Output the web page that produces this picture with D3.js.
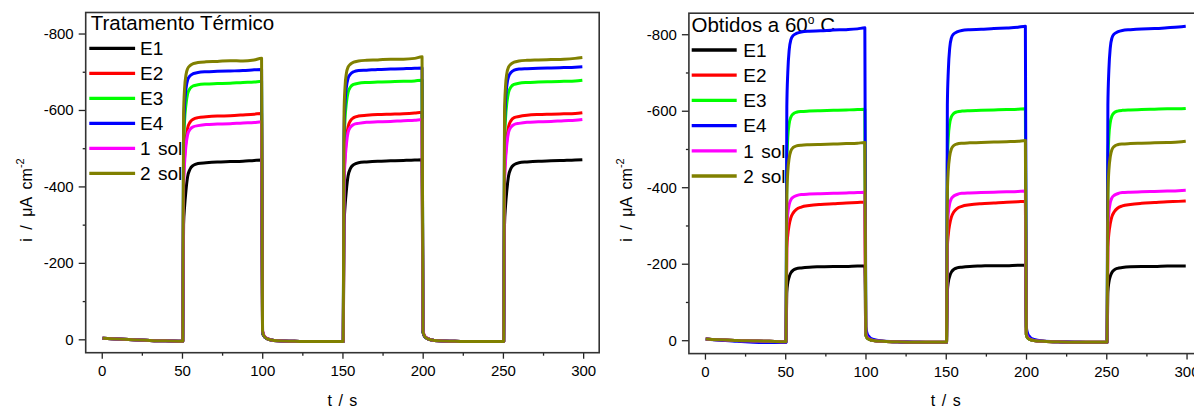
<!DOCTYPE html>
<html><head><meta charset="utf-8">
<script src="https://cdn.jsdelivr.net/npm/d3@7"></script>
<style>
body{margin:0;background:#fff}
svg{display:block}
text{font-family:"Liberation Sans",Arial,sans-serif;fill:#000}
</style>
</head><body>
<svg id="chart" width="1194" height="407"></svg>
<script>
// ---- data ----
const time = [
  0.5, 10, 20, 30, 40, 50.5,
  51.0, 51.6, 52.5, 53.5, 55, 57, 60, 65, 72, 80, 88, 95, 99.6,
  100.2, 101, 102.5, 105, 110, 120, 130, 140, 150.5,
  151.0, 151.6, 152.5, 153.5, 155, 157, 160, 165, 172, 180, 188, 195, 199.6,
  200.2, 201, 202.5, 205, 210, 220, 230, 240, 250.5,
  251.0, 251.6, 252.5, 253.5, 255, 257, 260, 265, 272, 280, 288, 295, 299.5
];
const seriesNames = ["E1", "E2", "E3", "E4", "1 sol", "2 sol"];
const seriesColors = ["#000000", "#ff0000", "#00ff00", "#0000ff", "#ff00ff", "#808000"];
const xTicks = [0, 50, 100, 150, 200, 250, 300];
const xMinor = [25, 75, 125, 175, 225, 275];
const yTicks = [0, -200, -400, -600, -800];
const yMinor = [-100, -300, -500, -700];

// Tratamento Térmico
const leftE1 = [-3,-1,1,3,4,5,
  -300,-345,-390,-425,-445,-455,-460,-462,-464,-465,-466,-468,-469,
  -20,-9,-3,1,4,5,6,6,6,
  -300,-347,-392,-427,-447,-457,-462,-464,-466,-467,-468,-469,-470,
  -20,-9,-3,1,4,5,6,6,6,
  -300,-347,-392,-427,-447,-457,-462,-464,-466,-467,-468,-469,-470];
const leftE2 = [-3,-1,1,3,4,5,
  -420,-475,-522,-552,-568,-576,-580,-582,-584,-585,-587,-589,-591,
  -20,-9,-3,1,4,5,6,6,6,
  -425,-480,-527,-556,-572,-580,-584,-586,-588,-589,-590,-592,-594,
  -20,-9,-3,1,4,5,6,6,6,
  -425,-480,-527,-556,-572,-580,-583,-586,-588,-589,-590,-591,-593];
const leftE3 = [-3,-1,1,3,4,5,
  -500,-570,-615,-642,-656,-663,-666,-668,-669,-670,-672,-673,-675,
  -20,-9,-3,1,4,5,6,6,6,
  -505,-575,-620,-646,-660,-667,-670,-672,-673,-674,-675,-676,-678,
  -20,-9,-3,1,4,5,6,6,6,
  -505,-575,-620,-646,-660,-667,-670,-672,-673,-674,-675,-676,-678];
const leftE4 = [-3,-1,1,3,4,5,
  -540,-612,-656,-678,-689,-695,-698,-700,-701,-702,-703,-705,-706,
  -20,-9,-3,1,4,5,6,6,6,
  -545,-617,-661,-683,-694,-700,-703,-704,-706,-707,-708,-709,-710,
  -20,-9,-3,1,4,5,6,6,6,
  -550,-622,-666,-687,-698,-704,-707,-708,-709,-710,-711,-712,-713];
const left1sol = [-3,-1,1,3,4,5,
  -400,-460,-507,-535,-549,-556,-559,-562,-563,-564,-566,-567,-569,
  -24,-11,-4,1,4,5,6,6,6,
  -405,-465,-512,-541,-555,-562,-565,-568,-569,-570,-572,-573,-575,
  -24,-11,-4,1,4,5,6,6,6,
  -405,-465,-512,-541,-555,-562,-565,-568,-569,-570,-572,-573,-575];
const left2sol = [-3,-1,1,3,4,5,
  -590,-655,-692,-708,-716,-721,-724,-726,-727,-729,-728,-731,-735,
  -22,-10,-3,1,4,5,6,6,6,
  -595,-660,-697,-712,-720,-725,-728,-730,-731,-733,-733,-735,-739,
  -22,-10,-3,1,4,5,6,6,6,
  -595,-660,-697,-712,-720,-725,-728,-730,-731,-732,-733,-735,-737];

// Obtidos a 60° C
const rightE1 = [-3,-1,1,2,3,4,
  -125,-150,-166,-176,-183,-187,-189,-191,-192,-193,-193,-194,-194,
  -15,-6,-2,1,3,4,5,5,5,
  -127,-152,-168,-178,-185,-189,-191,-193,-194,-195,-195,-196,-196,
  -15,-6,-2,1,3,4,5,5,5,
  -126,-151,-167,-177,-184,-188,-190,-192,-193,-193,-194,-194,-194];
const rightE2 = [-3,-1,1,2,3,4,
  -240,-275,-302,-320,-333,-342,-348,-352,-355,-357,-359,-360,-361,
  -15,-6,-2,1,3,4,5,5,5,
  -242,-277,-304,-322,-335,-344,-350,-354,-357,-359,-361,-362,-363,
  -15,-6,-2,1,3,4,5,5,5,
  -243,-278,-305,-323,-336,-345,-351,-355,-358,-360,-362,-363,-364];
const rightE3 = [-3,-1,1,2,3,4,
  -460,-530,-567,-583,-592,-596,-598,-599,-600,-601,-602,-603,-604,
  -15,-6,-2,1,3,4,5,5,5,
  -460,-530,-568,-584,-593,-597,-599,-600,-601,-602,-603,-604,-605,
  -15,-6,-2,1,3,4,5,5,5,
  -462,-532,-570,-586,-595,-599,-601,-602,-603,-604,-605,-605,-606];
const rightE4 = [-3,0,3,5,6,6,
  -610,-700,-760,-785,-797,-802,-806,-808,-809,-811,-812,-814,-817,
  -35,-18,-8,-2,2,4,5,6,6,
  -615,-705,-765,-790,-801,-806,-810,-812,-813,-815,-816,-818,-821,
  -35,-18,-8,-2,2,4,5,6,6,
  -615,-705,-765,-790,-801,-806,-810,-812,-814,-815,-817,-819,-821];
const right1sol = [-3,-1,1,2,3,4,
  -290,-330,-355,-367,-374,-378,-381,-382,-383,-384,-385,-386,-387,
  -18,-8,-3,1,3,4,5,5,5,
  -292,-332,-358,-370,-377,-381,-384,-385,-386,-387,-388,-389,-390,
  -18,-8,-3,1,3,4,5,5,5,
  -294,-334,-360,-372,-379,-383,-386,-387,-388,-389,-390,-391,-392];
const right2sol = [-3,-1,1,2,3,4,
  -380,-440,-477,-495,-504,-508,-510,-511,-512,-513,-514,-515,-517,
  -15,-6,-2,1,3,4,5,5,5,
  -385,-445,-482,-500,-509,-513,-515,-516,-517,-518,-519,-520,-522,
  -15,-6,-2,1,3,4,5,5,5,
  -383,-443,-480,-498,-507,-511,-513,-514,-515,-516,-517,-518,-520];

// ---- layout ----
const panels = [
  {title: "Tratamento Térmico", series: [leftE1, leftE2, leftE3, leftE4, left1sol, left2sol],
   x0: 85.7, x1: 599.2, y0: 12.5, y1: 352.7, titleDx: 5.0, titleY: 29.7,
   legX0: 3.6, legX1: 49.4, legTx: 54.4, legY: 48.3, legStep: 25, ylabX: 31.5},
  {title: null, series: [rightE1, rightE2, rightE3, rightE4, right1sol, right2sol],
   x0: 688.9, x1: 1202.6, y0: 13.2, y1: 353.6, titleDx: 2.6, titleY: 31.7,
   legX0: 2.8, legX1: 47.8, legTx: 54.4, legY: 50, legStep: 25.2, ylabX: 632}
];

const svg = d3.select("#chart");

panels.forEach((p, pi) => {
  const x = d3.scaleLinear().domain([-10, 310]).range([p.x0, p.x1]);
  const y = d3.scaleLinear().domain([35, -855]).range([p.y1, p.y0]);
  const g = svg.append("g");

  // axes
  const fmt = d => String(d);
  const xa = g.append("g").attr("transform", `translate(0,${p.y1})`)
    .call(d3.axisBottom(x).tickValues(xTicks).tickSize(6).tickPadding(7).tickFormat(fmt));
  const xm = g.append("g").attr("transform", `translate(0,${p.y1})`)
    .call(d3.axisBottom(x).tickValues(xMinor).tickSize(3).tickFormat(""));
  const ya = g.append("g").attr("transform", `translate(${p.x0},0)`)
    .call(d3.axisLeft(y).tickValues(yTicks).tickSize(7).tickPadding(5).tickFormat(fmt));
  const ym = g.append("g").attr("transform", `translate(${p.x0},0)`)
    .call(d3.axisLeft(y).tickValues(yMinor).tickSize(3).tickFormat(""));
  [xa, xm, ya, ym].forEach(a => {
    a.select(".domain").remove();
    a.selectAll(".tick line").attr("stroke", "#222").attr("stroke-width", 1.3);
    a.selectAll("text").attr("font-size", 15).attr("fill", "#000")
      .attr("font-family", '"Liberation Sans", Arial, sans-serif');
  });

  // frame
  g.append("rect").attr("x", p.x0).attr("y", p.y0)
    .attr("width", p.x1 - p.x0).attr("height", p.y1 - p.y0)
    .attr("fill", "none").attr("stroke", "#333").attr("stroke-width", 1.6);

  // axis titles
  g.append("text").attr("x", (p.x0 + p.x1) / 2).attr("y", 405.5)
    .attr("text-anchor", "middle").attr("font-size", 16).attr("word-spacing", 2)
    .text("t / s");
  const yl = g.append("text")
    .attr("transform", `translate(${p.ylabX},200) rotate(-90)`)
    .attr("text-anchor", "middle").attr("font-size", 16).attr("word-spacing", 4);
  yl.append("tspan").text("i / \u03bcA cm");
  yl.append("tspan").attr("font-size", 11).attr("dy", -8).text("-2");

  // legend
  if (p.title) {
    g.append("text").attr("x", p.x0 + p.titleDx).attr("y", p.titleY)
      .attr("font-size", 20.5).text(p.title);
  } else {
    const t = g.append("text").attr("x", p.x0 + p.titleDx).attr("y", p.titleY).attr("font-size", 20.5);
    t.append("tspan").text("Obtidos a 60");
    t.append("tspan").attr("font-size", 12).attr("dy", -8).text("o");
    t.append("tspan").attr("dy", 8).text(" C");
  }
  seriesNames.forEach((name, i) => {
    const ly = p.legY + i * p.legStep;
    g.append("line").attr("x1", p.x0 + p.legX0).attr("x2", p.x0 + p.legX1)
      .attr("y1", ly).attr("y2", ly)
      .attr("stroke", seriesColors[i]).attr("stroke-width", 3.3);
    g.append("text").attr("x", p.x0 + p.legTx).attr("y", ly + 6.8)
      .attr("font-size", 19).attr("word-spacing", 2).text(name);
  });

  // data lines
  const line = d3.line()
    .x((d, i) => x(time[i]))
    .y(d => y(d))
    .curve(d3.curveMonotoneX);
  p.series.forEach((s, i) => {
    g.append("path").datum(s).attr("d", line)
      .attr("fill", "none").attr("stroke", seriesColors[i])
      .attr("stroke-width", 3).attr("stroke-linejoin", "round");
  });
});
</script>
</body></html>
